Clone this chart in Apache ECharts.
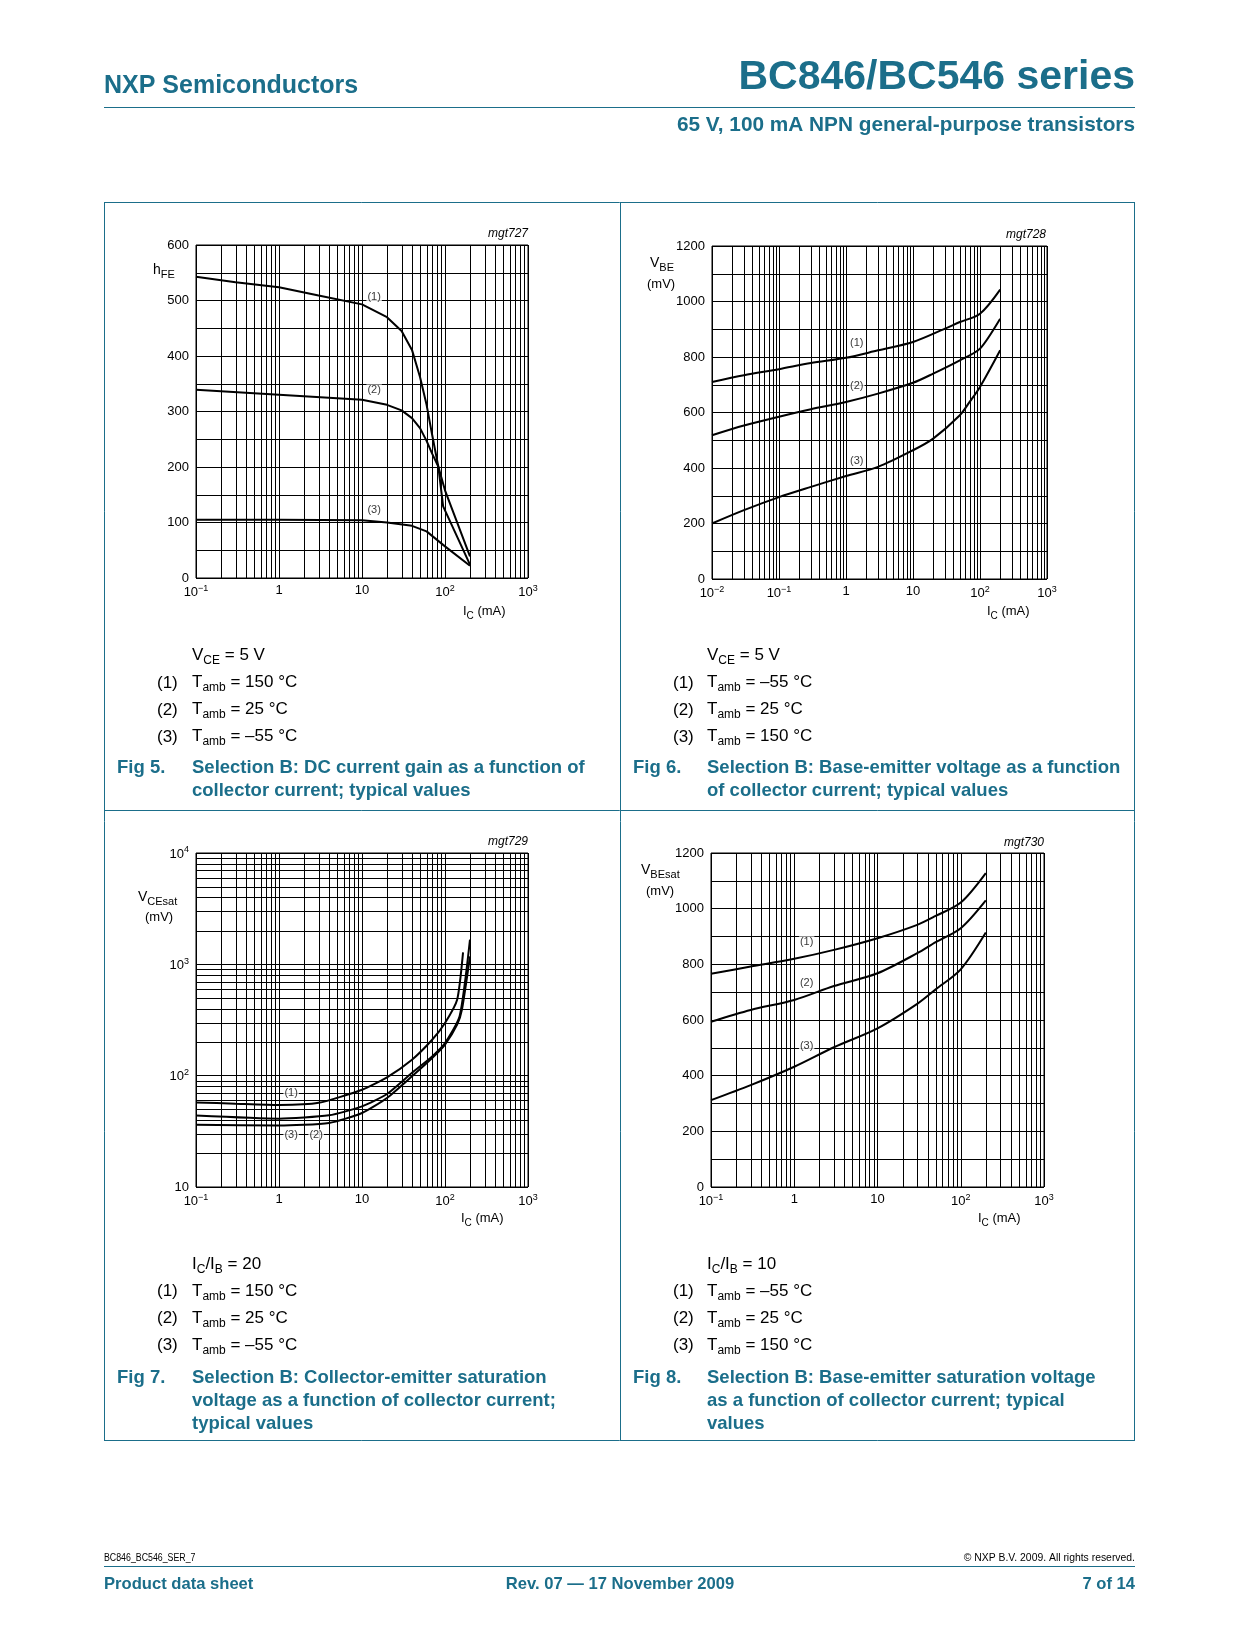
<!DOCTYPE html>
<html><head><meta charset="utf-8">
<script src="https://cdn.jsdelivr.net/npm/echarts@6/dist/echarts.min.js"></script>
<style>html,body{margin:0;padding:0;background:#fff}#c{width:1240px;height:1652px}</style>
</head><body><div id="c"></div>
<script>
// ================= DATA =================
// Fig 5: hFE vs IC (mA)
const f5x1 = [0.1, 0.3, 1, 3, 10, 20, 30, 40, 50, 60, 70, 83, 95, 200];
const f5y1 = [543, 533, 524, 509, 493, 470, 445, 411, 362, 312, 258, 201, 129, 24];
const f5x2 = [0.1, 1, 10, 20, 30, 40, 50, 60, 70, 83, 100, 200];
const f5y2 = [339, 330, 321, 312, 302, 288, 270, 247, 224, 201, 158, 39];
const f5x3 = [0.1, 1, 10, 20, 40, 60, 100, 200];
const f5y3 = [105, 105, 104, 100, 94, 84, 57, 22];
// Fig 6: VBE (mV) vs IC (mA)
const f6x1 = [0.01, 0.03, 0.1, 0.3, 1, 3, 10, 30, 50, 100, 200];
const f6y1 = [710, 734, 756, 778, 797, 824, 854, 902, 926, 956, 1043];
const f6x2 = [0.01, 0.03, 0.1, 0.3, 1, 3, 10, 20, 50, 100, 200];
const f6y2 = [518, 553, 585, 612, 638, 668, 707, 740, 788, 830, 938];
const f6x3 = [0.01, 0.03, 0.1, 0.3, 1, 3, 10, 20, 50, 70, 100, 200];
const f6y3 = [200, 248, 295, 332, 371, 404, 464, 506, 590, 638, 692, 824];
// Fig 7: VCEsat (mV) vs IC (mA)
const f7x1 = [0.1, 0.3, 1, 3, 10, 20, 40, 70, 100, 140, 165];
const f7y1 = [57.5, 56, 54.6, 57, 74.8, 96.6, 139, 210, 297, 480, 1280];
const f7x2 = [0.1, 1, 4, 10, 20, 40, 70, 100, 150, 200];
const f7y2 = [43.8, 41.1, 44, 53, 68.4, 106, 149, 196, 341, 1667];
const f7x3 = [0.1, 1, 4, 10, 20, 40, 70, 100, 140, 160, 200];
const f7y3 = [36.3, 35.6, 37.6, 46.2, 63, 98.6, 144, 190, 287, 392, 1180];
// Fig 8: VBEsat (mV) vs IC (mA)
const f8x = [0.1, 0.3, 1, 3, 10, 30, 50, 100, 200];
const f8y1 = [766, 792, 820, 852, 894, 942, 974, 1022, 1128];
const f8y2 = [594, 636, 672, 722, 768, 840, 880, 930, 1030];
const f8y3 = [312, 366, 432, 502, 570, 658, 710, 782, 914];
// curve label anchors (data space)
const f5lab = [[14, 507], [14, 339], [14, 123]];
const f6lab = [[1.45, 850], [1.45, 695], [1.45, 425]];
const f7lab = [[1.4, 70], [2.8, 29.5], [1.4, 29.5]];
const f7labNames = ['(1)', '(2)', '(3)'];
const f8lab = [[1.41, 881], [1.41, 733], [1.41, 506]];
const curveNames = ['(1)', '(2)', '(3)'];
// texts
const f5temps = ['150 °C', '25 °C', '–55 °C'];
const f6temps = ['–55 °C', '25 °C', '150 °C'];
const f7temps = ['150 °C', '25 °C', '–55 °C'];
const f8temps = ['–55 °C', '25 °C', '150 °C'];
const f5cap = ['Selection B: DC current gain as a function of', 'collector current; typical values'];
const f6cap = ['Selection B: Base-emitter voltage as a function', 'of collector current; typical values'];
const f7cap = ['Selection B: Collector-emitter saturation', 'voltage as a function of collector current;', 'typical values'];
const f8cap = ['Selection B: Base-emitter saturation voltage', 'as a function of collector current; typical', 'values'];

// ================= STYLE / LAYOUT =================
const FONT = "'Liberation Sans', Arial, Helvetica, sans-serif";
const TEAL = '#1b6e8a';
const grids = [
  {left: 196, top: 245, width: 332, height: 333},
  {left: 712, top: 246, width: 335, height: 333},
  {left: 196, top: 853, width: 332, height: 334},
  {left: 711, top: 853, width: 333, height: 334}
];

function powLabel(v) {
  const e = Math.round(Math.log10(v));
  if (e === 0) return '{b|1}';
  if (e === 1) return '{b|10}';
  return '{b|10}{s|' + (e < 0 ? '−' + (-e) : e) + '}';
}
const supRich = {
  b: {fontFamily: FONT, fontSize: 13, color: '#000', verticalAlign: 'bottom'},
  s: {fontFamily: FONT, fontSize: 9, color: '#000', verticalAlign: 'bottom', padding: [0, 0, 6, 0]}
};
function logAxis(gi, min, max, margin) {
  return {type: 'log', logBase: 10, gridIndex: gi, min, max,
    axisLine: {show: false}, axisTick: {show: false},
    splitLine: {show: true, lineStyle: {color: '#000', width: 1}},
    axisLabel: {margin, showMinLabel: true, showMaxLabel: true, formatter: powLabel, rich: supRich,
      color: '#000', fontFamily: FONT, fontSize: 13}};
}
function linAxis(gi, max, step, labStep) {
  return {type: 'value', gridIndex: gi, min: 0, max, interval: step,
    axisLine: {show: false}, axisTick: {show: false},
    splitLine: {show: true, lineStyle: {color: '#000', width: 1}},
    axisLabel: {margin: 7, color: '#000', fontFamily: FONT, fontSize: 13,
      formatter: v => (Math.round(v) % labStep === 0 ? String(Math.round(v)) : '')}};
}
function minors(lo, hi) {
  const out = [];
  for (let e = lo; e < hi; e++) for (let m = 2; m <= 9; m++) out.push(m * Math.pow(10, e));
  return out;
}
// crisp minor grid lines, positioned through the axis scales
function vLines(gi, xs, yRef) {
  return {type: 'custom', xAxisIndex: gi, yAxisIndex: gi, silent: true, z: 1, clip: false,
    data: xs.map(v => [v, yRef]),
    renderItem: (params, api) => {
      const p = api.coord([api.value(0), api.value(1)]);
      const cs = params.coordSys;
      const x = Math.round(p[0]) + 0.5;
      return {type: 'line', shape: {x1: x, y1: cs.y, x2: x, y2: cs.y + cs.height},
        style: {stroke: '#000', lineWidth: 1}};
    }};
}
function hLines(gi, ys, xRef) {
  return {type: 'custom', xAxisIndex: gi, yAxisIndex: gi, silent: true, z: 1, clip: false,
    data: ys.map(v => [xRef, v]),
    renderItem: (params, api) => {
      const p = api.coord([api.value(0), api.value(1)]);
      const cs = params.coordSys;
      const y = Math.round(p[1]) + 0.5;
      return {type: 'line', shape: {x1: cs.x, y1: y, x2: cs.x + cs.width, y2: y},
        style: {stroke: '#000', lineWidth: 1}};
    }};
}
function curve(gi, xs, ys, smooth) {
  return {type: 'line', xAxisIndex: gi, yAxisIndex: gi, data: xs.map((x, i) => [x, ys[i]]),
    showSymbol: false, symbol: 'none', smooth: smooth, silent: true, z: 3,
    lineStyle: {color: '#000', width: 2}};
}
function labels(gi, pos, names) {
  return {type: 'scatter', xAxisIndex: gi, yAxisIndex: gi, silent: true, z: 5,
    data: pos.map((p, i) => ({value: p, name: names[i]})), symbolSize: 1,
    itemStyle: {color: 'rgba(0,0,0,0)'},
    label: {show: true, position: 'inside', formatter: p => p.name, color: '#000', fontFamily: FONT,
      fontSize: 11, backgroundColor: '#fff', padding: [0, 1]}};
}

// ---------- graphic helpers ----------
const G = [];
function text(x, y, t, o, extra) {
  G.push(Object.assign({type: 'text', x, y, silent: true, z: 100,
    style: Object.assign({text: t, fontFamily: FONT, fontSize: 12, fill: '#000', align: 'left', verticalAlign: 'middle'}, o || {})}, extra || {}));
}
function rtext(x, y, parts, base, sub, o) {
  const t = parts.map(p => '{' + (p[1] ? 's' : 'n') + '|' + p[0] + '}').join('');
  const st = Object.assign({text: t, fontFamily: FONT, fontSize: base, fill: '#000', align: 'left', verticalAlign: 'middle',
    rich: {
      n: {fontFamily: FONT, fontSize: base, fill: '#000', verticalAlign: 'bottom', padding: [0, 0, 3, 0]},
      s: {fontFamily: FONT, fontSize: sub, fill: '#000', verticalAlign: 'bottom'}
    }}, o || {});
  G.push({type: 'text', x, y, silent: true, z: 100, style: st});
}
function line(x1, y1, x2, y2, w, c) {
  G.push({type: 'line', silent: true, z: 100, shape: {x1, y1, x2, y2}, style: {stroke: c || TEAL, lineWidth: w || 1}});
}

// header
text(104, 86, 'NXP Semiconductors', {fontSize: 25, fontWeight: 'bold', fill: TEAL});
text(1135, 78, 'BC846/BC546 series', {fontSize: 41, fontWeight: 'bold', fill: TEAL, align: 'right'});
line(104, 107.5, 1135, 107.5, 1.2);
text(1135, 125, '65 V, 100 mA NPN general-purpose transistors', {fontSize: 20.8, fontWeight: 'bold', fill: TEAL, align: 'right'});

// frame
line(104, 202.5, 1135, 202.5);
line(104, 1440.5, 1135, 1440.5);
line(104.5, 202, 104.5, 1441);
line(1134.5, 202, 1134.5, 1441);
line(620.5, 202, 620.5, 1441);
line(104, 810.5, 1135, 810.5);

// footer
text(104, 1558, 'BC846_BC546_SER_7', {fontSize: 10}, {scaleX: 0.88});
text(1135, 1558, '© NXP B.V. 2009. All rights reserved.', {fontSize: 10.4, align: 'right'});
line(104, 1566.5, 1135, 1566.5, 1.2);
text(104, 1584, 'Product data sheet', {fontSize: 16.6, fontWeight: 'bold', fill: TEAL});
text(620, 1584, 'Rev. 07 — 17 November 2009', {fontSize: 16.6, fontWeight: 'bold', fill: TEAL, align: 'center'});
text(1135, 1584, '7 of 14', {fontSize: 16.6, fontWeight: 'bold', fill: TEAL, align: 'right'});

// mgt ids
text(528, 234, 'mgt727', {fontSize: 12, fontStyle: 'italic', align: 'right'});
text(1046, 235, 'mgt728', {fontSize: 12, fontStyle: 'italic', align: 'right'});
text(528, 842, 'mgt729', {fontSize: 12, fontStyle: 'italic', align: 'right'});
text(1044, 843, 'mgt730', {fontSize: 12, fontStyle: 'italic', align: 'right'});

// axis titles
rtext(153, 272, [['h', 0], ['FE', 1]], 14, 11);
rtext(650, 265, [['V', 0], ['BE', 1]], 14, 11);
text(647, 284, '(mV)', {fontSize: 13});
rtext(138, 899, [['V', 0], ['CEsat', 1]], 14, 11);
text(145, 917, '(mV)', {fontSize: 13});
rtext(641, 872, [['V', 0], ['BEsat', 1]], 14, 11);
text(646, 891, '(mV)', {fontSize: 13});
rtext(463, 613, [['I', 0], ['C', 1], [' (mA)', 0]], 13, 10);
rtext(987, 613, [['I', 0], ['C', 1], [' (mA)', 0]], 13, 10);
rtext(461, 1220, [['I', 0], ['C', 1], [' (mA)', 0]], 13, 10);
rtext(978, 1220, [['I', 0], ['C', 1], [' (mA)', 0]], 13, 10);

// condition blocks + captions
function block(nx, tx, rows, first, temps, figLabel, figX, cap, capRow) {
  rtext(tx, rows[0], first, 17, 12);
  temps.forEach((t, i) => {
    text(nx, rows[i + 1] - 1, curveNames[i], {fontSize: 17});
    rtext(tx, rows[i + 1], [['T', 0], ['amb', 1], [' = ' + t, 0]], 17, 12);
  });
  text(figX, capRow[0], figLabel, {fontSize: 18.5, fontWeight: 'bold', fill: TEAL});
  cap.forEach((c, i) => text(tx, capRow[i], c, {fontSize: 18.5, fontWeight: 'bold', fill: TEAL}));
}
const rowsTop = [657, 684, 711, 738], capTop = [768, 791];
const rowsBot = [1265.5, 1292.5, 1319.5, 1346.5], capBot = [1377.5, 1400.5, 1423.5];
block(157, 192, rowsTop, [['V', 0], ['CE', 1], [' = 5 V', 0]], f5temps, 'Fig 5.', 117, f5cap, capTop);
block(673, 707, rowsTop, [['V', 0], ['CE', 1], [' = 5 V', 0]], f6temps, 'Fig 6.', 633, f6cap, capTop);
block(157, 192, rowsBot, [['I', 0], ['C', 1], ['/I', 0], ['B', 1], [' = 20', 0]], f7temps, 'Fig 7.', 117, f7cap, capBot);
block(673, 707, rowsBot, [['I', 0], ['C', 1], ['/I', 0], ['B', 1], [' = 10', 0]], f8temps, 'Fig 8.', 633, f8cap, capBot);

// ================= OPTION =================
const option = {
  backgroundColor: '#fff',
  animation: false,
  grid: grids.map(g => Object.assign({show: true, borderColor: '#000', borderWidth: 1, backgroundColor: '#fff',
    containLabel: false, outerBoundsMode: 'none'}, g)),
  xAxis: [
    logAxis(0, 0.1, 1000, 6),
    logAxis(1, 0.01, 1000, 6),
    logAxis(2, 0.1, 1000, 6),
    logAxis(3, 0.1, 1000, 6)
  ],
  yAxis: [
    linAxis(0, 600, 50, 100),
    linAxis(1, 1200, 100, 200),
    logAxis(2, 10, 10000, 7),
    linAxis(3, 1200, 100, 200)
  ],
  series: [
    vLines(0, minors(-1, 3), 300),
    vLines(1, minors(-2, 3), 600),
    vLines(2, minors(-1, 3), 100),
    hLines(2, minors(1, 4), 1),
    vLines(3, minors(-1, 3), 600),
    curve(0, f5x1, f5y1, false),
    curve(0, f5x2, f5y2, false),
    curve(0, f5x3, f5y3, false),
    curve(1, f6x1, f6y1, 0.3),
    curve(1, f6x2, f6y2, 0.3),
    curve(1, f6x3, f6y3, 0.3),
    curve(2, f7x1, f7y1, 0.2),
    curve(2, f7x2, f7y2, 0.2),
    curve(2, f7x3, f7y3, 0.2),
    curve(3, f8x, f8y1, 0.3),
    curve(3, f8x, f8y2, 0.3),
    curve(3, f8x, f8y3, 0.3),
    labels(0, f5lab, curveNames),
    labels(1, f6lab, curveNames),
    labels(2, f7lab, f7labNames),
    labels(3, f8lab, curveNames)
  ],
  graphic: G
};
const chart = echarts.init(document.getElementById('c'), null, {renderer: 'canvas'});
chart.setOption(option);
</script>
</body></html>
